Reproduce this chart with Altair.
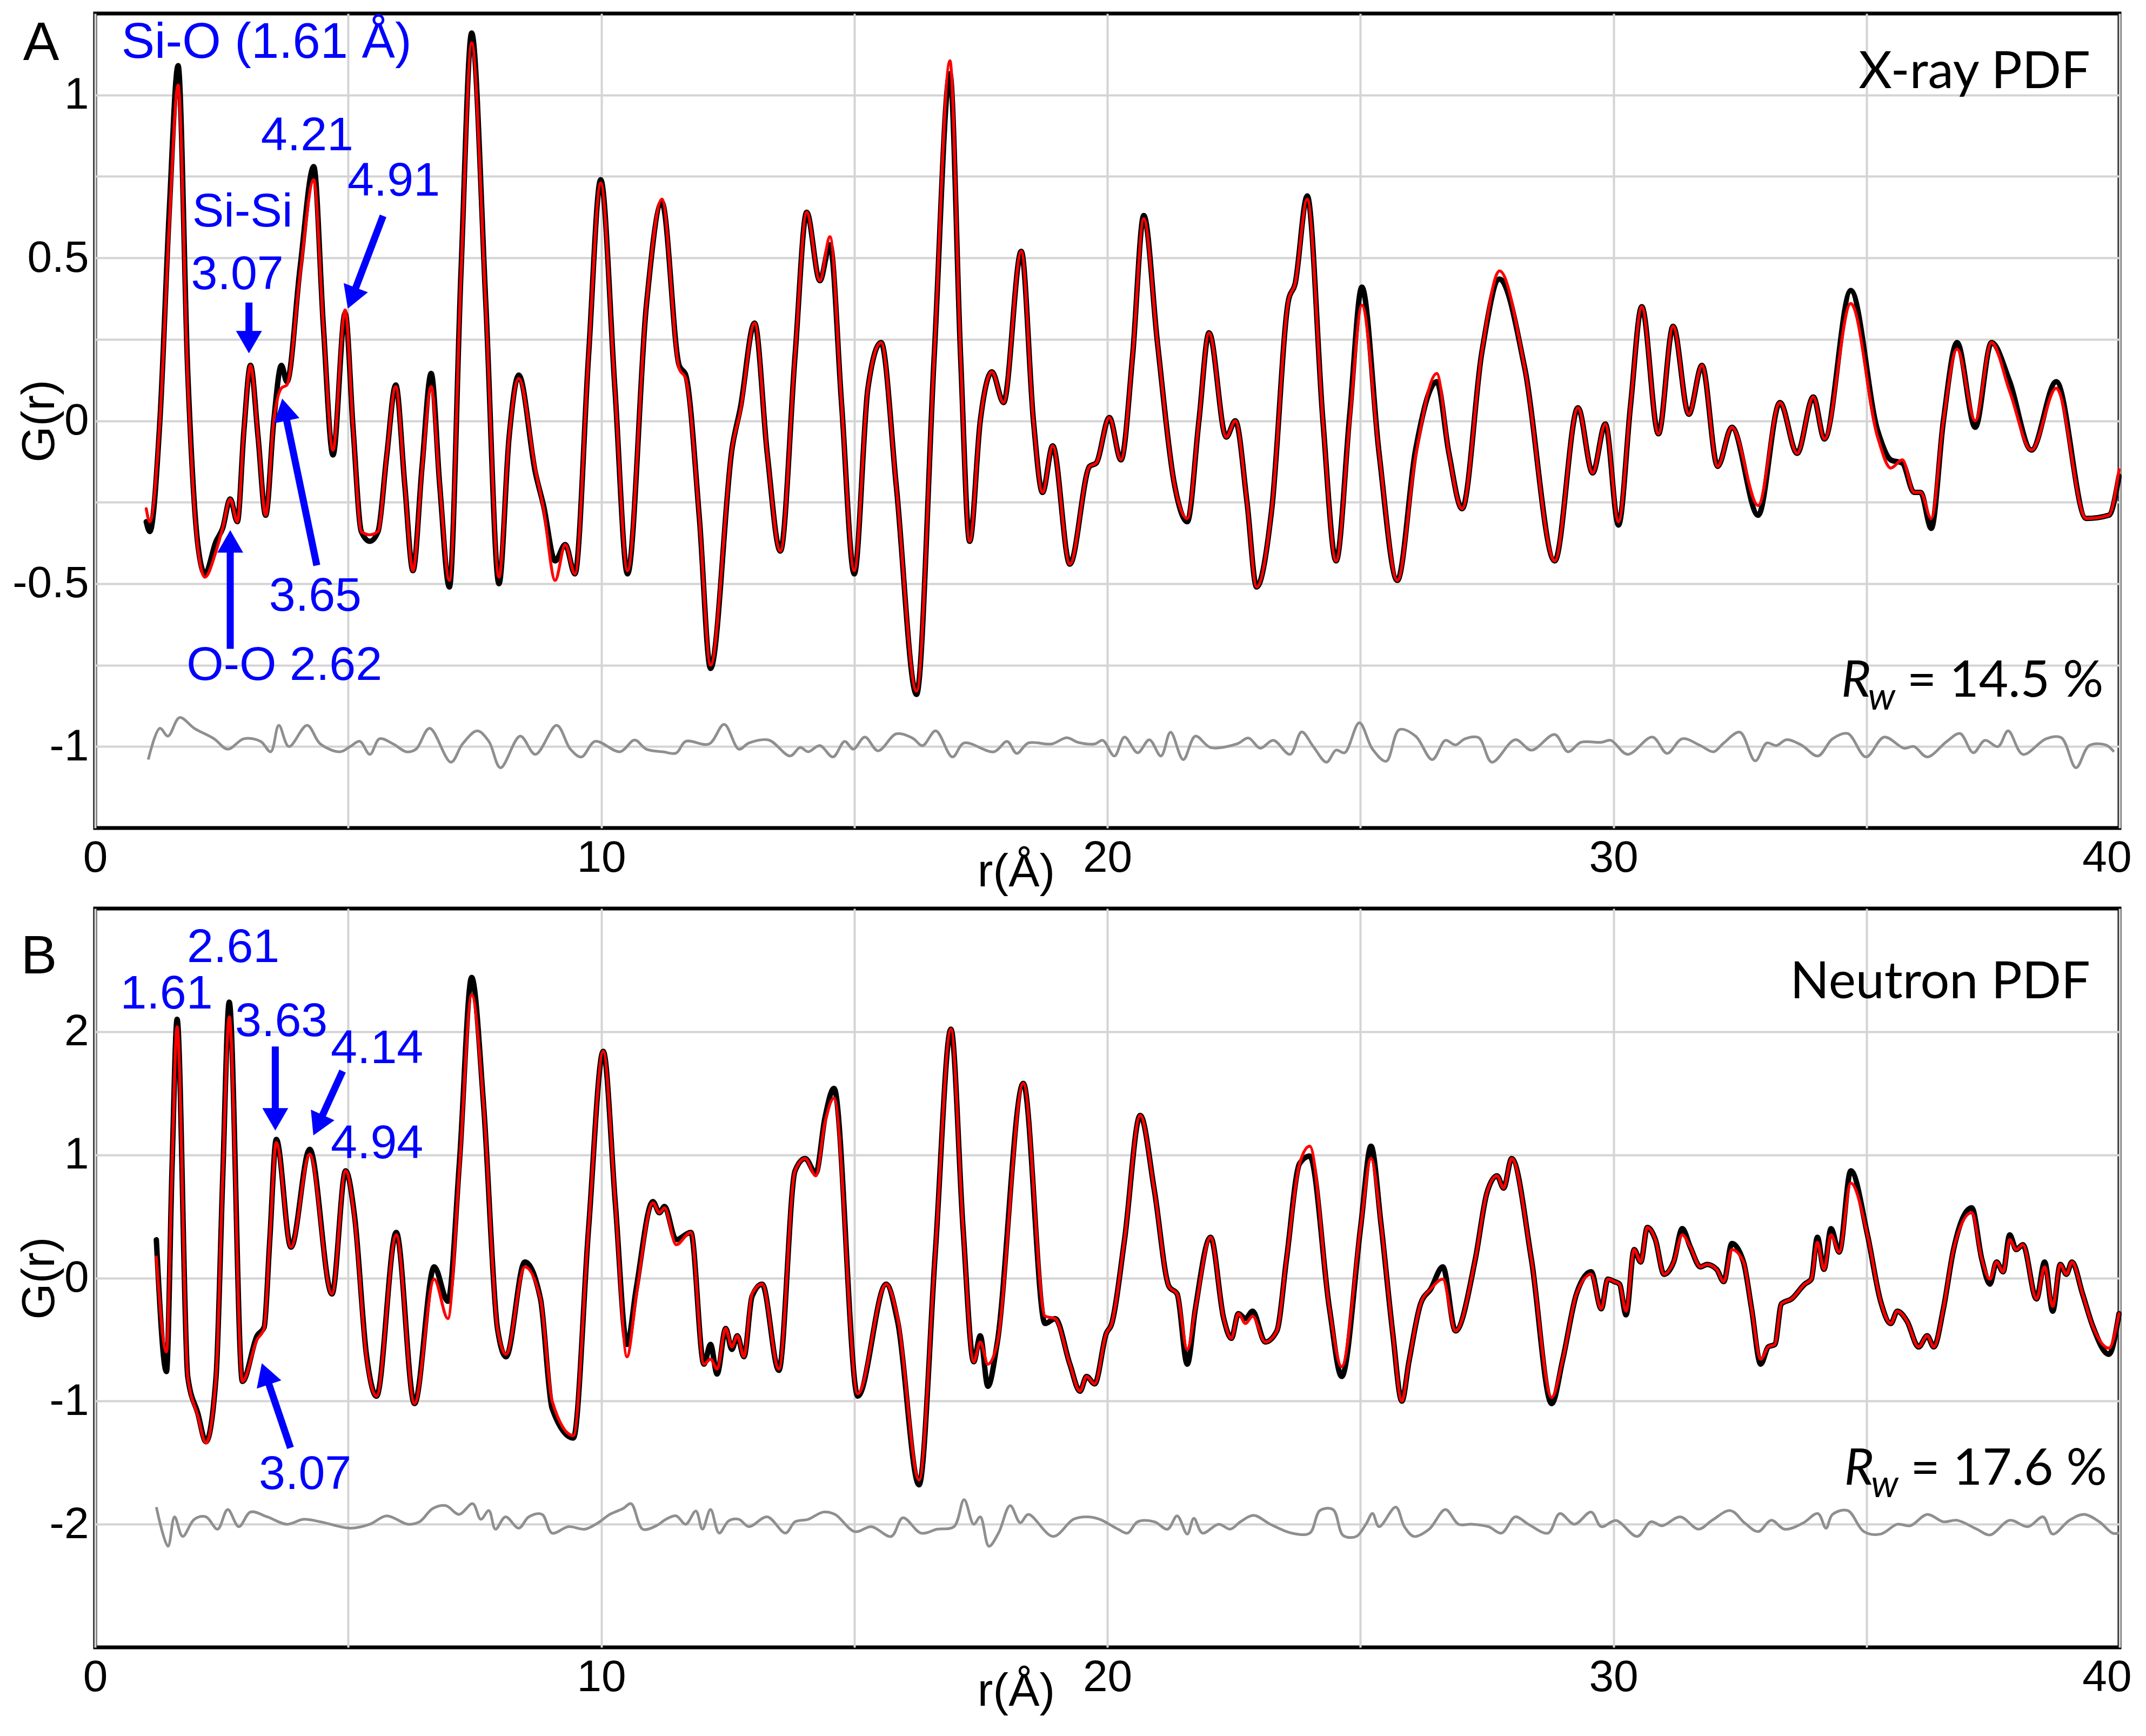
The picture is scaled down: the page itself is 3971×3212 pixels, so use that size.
import math
import altair as alt
import pandas as pd

# ---------------- data ----------------
# X-ray PDF: (r, G_calc [red], G_obs [black])
XRAY_A = [(1.01,-0.27,-0.31),(1.08,-0.31,-0.34),(1.28,0.00,0.00),(1.47,0.62,0.66),(1.64,1.03,1.09),
          (1.83,0.13,0.15),(2.03,-0.39,-0.38),(2.17,-0.48,-0.47),(2.39,-0.40,-0.37),(2.52,-0.33,-0.33),
          (2.67,-0.24,-0.24),(2.81,-0.31,-0.31),(2.94,-0.03,-0.03),(3.07,0.17,0.17),(3.22,-0.05,-0.05),
          (3.37,-0.29,-0.29),(3.53,0.00,0.00),(3.68,0.10,0.17),(3.79,0.11,0.12),(4.05,0.45,0.47),
          (4.32,0.74,0.78),(4.51,0.29,0.29),(4.70,-0.09,-0.105),(4.94,0.34,0.33),(5.10,-0.03,-0.03),
          (5.26,-0.34,-0.34),(5.43,-0.35,-0.37),(5.59,-0.34,-0.34),(5.76,-0.11,-0.11),(5.94,0.105,0.11),
          (6.12,-0.20,-0.20),(6.28,-0.46,-0.46),(6.46,-0.15,-0.14),(6.64,0.105,0.145),(6.81,-0.20,-0.20),
          (7.00,-0.49,-0.51),(7.23,0.45,0.46),(7.44,1.16,1.19),(7.72,0.35,0.36),(7.98,-0.48,-0.50),
          (8.18,-0.05,-0.05),(8.37,0.13,0.14),(8.70,-0.15,-0.16),(8.86,-0.27,-0.26),(9.09,-0.49,-0.43),
          (9.29,-0.38,-0.38),(9.48,-0.47,-0.47),(9.75,0.20,0.20),(9.99,0.73,0.74)]
XRAY_B = [(10.27,0.10,0.10),(10.52,-0.46,-0.47),(10.89,0.35,0.35),(11.20,0.68,0.67),(11.54,0.16,0.17),
          (11.67,0.13,0.14),(11.94,-0.30,-0.30),(12.16,-0.75,-0.76),(12.59,-0.08,-0.08),(12.75,0.03,0.04),
          (13.03,0.30,0.30),(13.28,-0.10,-0.10),(13.54,-0.40,-0.40),(13.83,0.20,0.20),(14.06,0.64,0.64),
          (14.32,0.43,0.43),(14.52,0.565,0.54),(14.75,0.05,0.05),(15.00,-0.46,-0.47),(15.27,0.10,0.10),
          (15.53,0.24,0.24),(15.83,-0.20,-0.20),(16.23,-0.83,-0.84),(16.58,0.20,0.20),(16.89,1.105,1.065),
          (17.10,0.20,0.20),(17.28,-0.37,-0.37),(17.49,0.00,0.00),(17.72,0.15,0.15),(17.95,0.056,0.056),
          (18.30,0.52,0.52),(18.54,0.00,0.00),(18.72,-0.22,-0.22),(18.92,-0.077,-0.077),(19.26,-0.44,-0.44),
          (19.65,-0.14,-0.14),(19.78,-0.13,-0.13)]
XRAY_C = [(20.04,0.01,0.01),(20.27,-0.12,-0.12),(20.50,0.20,0.20),(20.72,0.62,0.63),(20.99,0.24,0.24),
          (21.32,-0.19,-0.19),(21.58,-0.30,-0.31),(21.81,0.00,0.00),(22.01,0.27,0.27),(22.35,-0.05,-0.05),
          (22.53,0.00,0.00),(22.76,-0.25,-0.25),(22.95,-0.51,-0.51),(23.25,-0.27,-0.27),(23.58,0.37,0.37),
          (23.71,0.42,0.42),(23.95,0.68,0.69),(24.26,0.00,0.00),(24.52,-0.43,-0.43),(24.79,0.00,0.02),
          (25.03,0.355,0.41),(25.37,-0.10,-0.10),(25.73,-0.49,-0.49),(26.09,-0.11,-0.09),(26.51,0.145,0.12),
          (26.75,-0.10,-0.10),(27.01,-0.27,-0.27),(27.40,0.21,0.21),(27.75,0.46,0.435),(28.25,0.16,0.16),
          (28.84,-0.43,-0.43),(29.30,0.04,0.04),(29.59,-0.16,-0.16),(29.84,-0.01,-0.01)]
XRAY_D = [(30.10,-0.31,-0.32),(30.34,0.05,0.05),(30.56,0.35,0.35),(30.89,-0.04,-0.04),(31.18,0.29,0.29),
          (31.49,0.02,0.02),(31.75,0.17,0.17),(32.06,-0.14,-0.14),(32.34,-0.02,-0.02),(32.86,-0.26,-0.29),
          (33.29,0.056,0.056),(33.63,-0.10,-0.10),(33.95,0.073,0.073),(34.17,-0.056,-0.056),(34.69,0.36,0.40),
          (35.22,-0.05,-0.03),(35.48,-0.145,-0.12),(35.71,-0.12,-0.13),(35.94,-0.22,-0.22),(36.07,-0.22,-0.22),
          (36.28,-0.30,-0.33),(36.52,0.00,0.00),(36.79,0.22,0.24),(37.15,0.00,-0.02),(37.47,0.24,0.24),
          (37.83,0.09,0.12),(38.26,-0.09,-0.09),(38.75,0.10,0.12),(39.34,-0.30,-0.30),(39.79,-0.29,-0.29),
          (39.99,-0.15,-0.17)]

# X-ray difference curve (r, G) around -1
XDIFF_A = [(1.05,-1.04),(1.28,-0.944),(1.44,-0.968),(1.67,-0.911),(1.96,-0.944),(2.35,-0.976),(2.62,-1.008),
           (2.94,-0.976),(3.27,-0.984),(3.47,-1.016),(3.63,-0.935),(3.83,-1.0),(4.19,-0.935),(4.45,-0.992),
           (4.84,-1.016),(5.04,-1.0),(5.23,-0.984),(5.43,-1.024),(5.62,-0.976),(5.89,-0.992),(6.15,-1.016),
           (6.34,-1.008),(6.61,-0.944),(7.03,-1.048),(7.26,-0.992),(7.55,-0.952),(7.78,-0.984),(8.01,-1.065),
           (8.40,-0.968),(8.70,-1.024),(9.12,-0.935),(9.39,-1.008),(9.61,-1.032),(9.88,-0.984)]
XDIFF_B = [(10.37,-1.016),(10.66,-0.98),(10.89,-1.008),(11.22,-1.016),(11.48,-1.02),(11.67,-0.984),
           (12.13,-0.992),(12.43,-0.932),(12.72,-1.008),(12.92,-0.989),(13.31,-0.98),(13.73,-1.029),
           (13.93,-1.003),(14.09,-1.016),(14.32,-0.997),(14.58,-1.032),(14.81,-0.984),(14.98,-1.008),
           (15.21,-0.971),(15.47,-1.013),(15.83,-0.961),(16.15,-0.974),(16.35,-0.997),(16.61,-0.952),
           (16.94,-1.032),(17.17,-0.989),(17.76,-1.016),(18.02,-0.984),(18.21,-1.021),(18.44,-0.989),
           (18.90,-0.992),(19.20,-0.973),(19.42,-0.987),(19.75,-0.992),(19.91,-0.981)]
XDIFF_C = [(20.14,-1.029),(20.34,-0.971),(20.60,-1.019),(20.83,-0.979),(21.06,-1.029),(21.25,-0.956),
           (21.50,-1.04),(21.74,-0.968),(22.04,-1.003),(22.56,-0.992),(22.79,-0.974),(23.02,-1.005),
           (23.28,-0.981),(23.61,-1.024),(23.84,-0.955),(24.07,-1.0),(24.33,-1.048),(24.52,-1.011),
           (24.69,-1.019),(24.98,-0.927),(25.24,-1.008),(25.51,-1.045),(25.77,-0.948),(26.09,-0.968),
           (26.42,-1.04),(26.68,-0.981),(26.88,-0.995),(27.07,-0.976),(27.34,-0.973),(27.60,-1.048),
           (28.06,-0.979),(28.38,-1.011),(28.84,-0.963),(29.10,-1.016),(29.36,-0.987),(29.76,-0.987),
           (29.95,-0.981)]
XDIFF_D = [(30.28,-1.024),(30.77,-0.971),(31.06,-1.021),(31.36,-0.976),(31.72,-0.997),(31.98,-1.016),
           (32.18,-0.989),(32.50,-0.956),(32.80,-1.044),(33.03,-0.989),(33.22,-0.997),(33.42,-0.979),
           (33.71,-0.995),(34.04,-1.029),(34.33,-0.976),(34.63,-0.96),(34.99,-1.032),(35.35,-0.971),
           (35.74,-1.005),(35.94,-1.0),(36.20,-1.032),(36.59,-0.984),(36.85,-0.96),(37.11,-1.019),
           (37.34,-0.981),(37.60,-1.0),(37.80,-0.952),(38.09,-1.024),(38.55,-0.976),(38.85,-0.973),
           (39.14,-1.065),(39.40,-0.997),(39.73,-0.995),(39.89,-1.016)]

# Neutron PDF: (r, G_calc [red], G_obs [black])
NEUT_A = [(1.21,0.17,0.31),(1.41,-0.60,-0.76),(1.52,0.90,0.90),(1.62,2.04,2.10),(1.83,-0.80,-0.80),
          (2.03,-1.12,-1.10),(2.19,-1.34,-1.33),(2.39,-0.80,-0.80),(2.52,0.80,0.80),(2.65,2.12,2.24),
          (2.91,-0.84,-0.84),(3.20,-0.50,-0.47),(3.34,-0.41,-0.40),(3.45,0.30,0.30),(3.58,1.10,1.125),
          (3.87,0.25,0.25),(4.24,1.005,1.045),(4.68,-0.13,-0.13),(4.95,0.87,0.87),(5.13,0.47,0.49),
          (5.36,-0.64,-0.62),(5.56,-0.96,-0.96),(5.95,0.35,0.37),(6.31,-1.02,-1.02),(6.70,-0.01,0.09),
          (6.97,-0.33,-0.19),(7.20,0.90,0.95),(7.44,2.30,2.44),(7.68,1.38,1.38),(7.95,-0.41,-0.41),
          (8.12,-0.62,-0.64),(8.49,0.09,0.13),(8.80,-0.17,-0.17),(9.03,-1.00,-1.06),(9.45,-1.28,-1.30),
          (9.75,0.40,0.40)]
NEUT_B = [(10.04,1.84,1.84),(10.28,0.60,0.60),(10.51,-0.64,-0.54),(10.69,-0.15,-0.09),(11.02,0.61,0.62),
          (11.15,0.53,0.53),(11.25,0.57,0.58),(11.48,0.27,0.31),(11.77,0.37,0.37),(12.03,-0.70,-0.70),
          (12.16,-0.66,-0.54),(12.29,-0.74,-0.78),(12.46,-0.41,-0.41),(12.58,-0.56,-0.58),(12.69,-0.47,-0.47),
          (12.82,-0.64,-0.64),(12.98,-0.13,-0.15),(13.18,-0.05,-0.05),(13.51,-0.74,-0.75),(13.83,0.87,0.87),
          (14.03,0.97,0.97),(14.24,0.83,0.85),(14.42,1.26,1.30),(14.60,1.46,1.54),(15.07,-0.94,-0.96),
          (15.63,-0.05,-0.05),(15.86,-0.33,-0.36),(16.28,-1.64,-1.68),(16.60,0.20,0.20),(16.91,2.02,2.02),
          (17.15,0.40,0.40),(17.36,-0.68,-0.68),(17.49,-0.52,-0.47),(17.64,-0.70,-0.88),(17.82,-0.54,-0.54),
          (18.34,1.58,1.58),(18.77,-0.31,-0.37),(18.97,-0.33,-0.33),(19.26,-0.70,-0.70),(19.46,-0.92,-0.92),
          (19.59,-0.80,-0.80),(19.75,-0.86,-0.86),(19.98,-0.45,-0.45)]
NEUT_C = [(20.08,-0.38,-0.38),(20.34,0.31,0.31),(20.65,1.32,1.32),(20.93,0.71,0.71),(21.22,-0.07,-0.07),
          (21.38,-0.13,-0.13),(21.58,-0.58,-0.70),(21.74,-0.25,-0.25),(22.04,0.33,0.33),(22.30,-0.33,-0.33),
          (22.45,-0.49,-0.49),(22.59,-0.29,-0.29),(22.73,-0.37,-0.33),(22.87,-0.31,-0.27),(23.12,-0.52,-0.52),
          (23.35,-0.43,-0.43),(23.54,0.15,0.15),(23.80,0.93,0.93),(24.00,1.07,0.99),(24.39,-0.25,-0.25),
          (24.63,-0.72,-0.80),(25.01,0.43,0.43),(25.21,0.97,1.07),(25.41,0.43,0.43),(25.64,-0.45,-0.45),
          (25.82,-1.00,-1.00),(25.96,-0.68,-0.68),(26.19,-0.21,-0.21),(26.39,-0.09,-0.09),(26.63,-0.01,0.09),
          (26.88,-0.43,-0.43),(27.27,0.15,0.15),(27.50,0.69,0.69),(27.70,0.83,0.83),(27.83,0.73,0.73),
          (27.99,0.97,0.97),(28.38,0.15,0.15),(28.78,-0.97,-1.02),(29.00,-0.66,-0.66),(29.27,-0.13,-0.13),
          (29.56,0.03,0.05),(29.76,-0.25,-0.25),(29.89,-0.01,-0.01)]
NEUT_D = [(30.02,-0.03,-0.03),(30.12,-0.05,-0.05),(30.25,-0.27,-0.30),(30.41,0.23,0.23),(30.54,0.13,0.13),
          (30.67,0.41,0.41),(30.83,0.31,0.31),(31.00,0.03,0.03),(31.19,0.13,0.13),(31.36,0.35,0.40),
          (31.52,0.25,0.25),(31.72,0.09,0.09),(31.85,0.11,0.11),(32.04,0.07,0.07),(32.18,-0.03,-0.03),
          (32.34,0.23,0.28),(32.57,0.13,0.13),(32.73,-0.25,-0.25),(32.91,-0.66,-0.70),(33.06,-0.56,-0.56),
          (33.19,-0.54,-0.54),(33.32,-0.21,-0.21),(33.52,-0.17,-0.17),(33.78,-0.05,-0.05),(33.91,-0.01,-0.01),
          (34.03,0.29,0.33),(34.16,0.07,0.07),(34.30,0.35,0.40),(34.46,0.21,0.21),(34.69,0.77,0.87),
          (35.02,0.35,0.35),(35.28,-0.19,-0.19),(35.48,-0.37,-0.37),(35.61,-0.27,-0.27),(35.80,-0.35,-0.35),
          (36.03,-0.56,-0.56),(36.20,-0.47,-0.47),(36.33,-0.56,-0.56),(36.52,-0.25,-0.25),(36.72,0.23,0.23),
          (37.08,0.53,0.57),(37.28,0.15,0.15),(37.44,-0.01,-0.05),(37.57,0.13,0.13),(37.70,0.05,0.05),
          (37.83,0.31,0.35),(37.96,0.23,0.23),(38.09,0.27,0.27),(38.36,-0.17,-0.17),(38.52,0.09,0.13),
          (38.68,-0.23,-0.27),(38.83,0.11,0.11),(38.95,0.03,0.03),(39.06,0.13,0.13),(39.27,-0.13,-0.13),
          (39.47,-0.39,-0.39),(39.79,-0.57,-0.62),(39.99,-0.29,-0.29)]

# Neutron difference curve (r, G) around -2
NDIFF_A = [(1.21,-1.861),(1.44,-2.179),(1.57,-1.94),(1.73,-2.099),(1.96,-1.96),(2.19,-1.94),(2.42,-2.04),
           (2.62,-1.881),(2.84,-2.02),(3.07,-1.901),(3.40,-1.94),(3.79,-2.0),(4.12,-1.96),(4.45,-1.98),
           (5.04,-2.032),(5.43,-2.0),(5.76,-1.932),(6.18,-2.0),(6.41,-1.98),(6.67,-1.873),(6.93,-1.849),
           (7.19,-1.92),(7.46,-1.833),(7.62,-1.96),(7.78,-1.889),(7.91,-2.04),(8.11,-1.94),(8.37,-2.032),
           (8.57,-1.94),(8.83,-1.92),(9.03,-2.072),(9.35,-2.02),(9.68,-2.04),(9.94,-1.988)]
NDIFF_B = [(10.17,-1.92),(10.43,-1.873),(10.59,-1.833),(10.82,-2.04),(11.09,-2.012),(11.28,-1.96),
           (11.48,-1.932),(11.67,-2.0),(11.87,-1.893),(12.0,-2.04),(12.16,-1.881),(12.33,-2.072),
           (12.52,-1.972),(12.72,-1.96),(12.92,-2.02),(13.28,-1.94),(13.64,-2.072),(13.83,-1.98),
           (14.09,-1.96),(14.39,-1.901),(14.62,-1.92),(15.01,-2.06),(15.34,-2.02),(15.73,-2.099),
           (15.96,-1.948),(16.32,-2.072),(16.64,-2.04),(16.97,-2.02),(17.17,-1.801),(17.36,-2.0),
           (17.49,-1.94),(17.66,-2.179),(17.85,-2.072),(18.08,-1.849),(18.28,-1.988),(18.44,-1.92),
           (18.93,-2.099),(19.33,-1.96),(19.59,-1.94),(19.85,-1.96)]
NDIFF_C = [(20.21,-2.04),(20.40,-2.072),(20.60,-1.98),(20.93,-1.98),(21.19,-2.04),(21.38,-1.932),
           (21.58,-2.08),(21.71,-1.952),(21.88,-2.072),(22.20,-2.0),(22.43,-2.04),(22.63,-1.98),
           (22.89,-1.928),(23.22,-2.0),(23.64,-2.072),(24.0,-2.072),(24.2,-1.889),(24.46,-1.881),
           (24.66,-2.091),(24.92,-2.099),(25.11,-2.0),(25.24,-1.913),(25.37,-2.02),(25.70,-1.861),
           (25.87,-2.02),(26.06,-2.099),(26.36,-2.04),(26.68,-1.881),(26.94,-2.0),(27.21,-2.0),
           (27.53,-2.02),(27.79,-2.072),(28.06,-1.94),(28.32,-2.0),(28.71,-2.072),(28.94,-1.913),
           (29.23,-2.0),(29.56,-1.901),(29.76,-2.02)]
NDIFF_D = [(30.05,-1.97),(30.47,-2.099),(30.74,-1.98),(30.965,-2.012),(31.32,-1.94),(31.68,-2.04),
           (31.95,-1.968),(32.31,-1.889),(32.6,-1.992),(32.86,-2.06),(33.12,-1.968),(33.38,-2.04),
           (33.74,-1.992),(34.04,-1.913),(34.20,-2.032),(34.33,-1.92),(34.63,-1.889),(34.95,-2.06),
           (35.28,-2.08),(35.61,-2.0),(35.87,-2.012),(36.20,-1.92),(36.52,-1.98),(36.79,-1.968),
           (37.18,-2.04),(37.44,-2.087),(37.83,-1.968),(38.19,-2.02),(38.49,-1.94),(38.68,-2.08),
           (39.01,-1.968),(39.30,-1.92),(39.6,-1.98),(39.86,-2.072),(39.99,-2.072)]

# Annotations: (text, r, G, fontsize)
XRAY_NOTES = [("4.21", 4.19, 0.874, 88), ("Si-Si", 2.91, 0.64, 88), ("3.07", 2.81, 0.447, 88),
              ("4.91", 5.90, 0.734, 88), ("3.65", 4.35, -0.54, 88), ("O-O 2.62", 3.74, -0.753, 88)]
XRAY_NOTES_LEFT = [("Si-O (1.61 Å)", 0.52, 1.16, 92)]
NEUT_NOTES = [("1.61", 1.41, 2.30, 88), ("2.61", 2.73, 2.68, 88), ("3.63", 3.68, 2.08, 88),
              ("4.14", 5.57, 1.86, 88), ("4.94", 5.57, 1.085, 88), ("3.07", 4.15, -1.60, 88)]
# Arrows: (tail r, tail G, tip r, tip G)
XRAY_ARROWS = [(3.04, 0.363, 3.04, 0.21), (5.69, 0.629, 5.00, 0.347),
               (4.38, -0.444, 3.70, 0.065), (2.67, -0.70, 2.67, -0.339)]
NEUT_ARROWS = [(3.56, 1.88, 3.56, 1.205), (4.89, 1.68, 4.32, 1.165), (3.86, -1.38, 3.30, -0.70)]

# ---------------- chart ----------------
W, HT, HB = 3746, 1507, 1367
FONT = "Liberation Sans, Arial, sans-serif"
FONT2 = "Lato, Open Sans, sans-serif"
BLUE = "#0000ff"
GRID = "#d4d4d4"


def arrow_frames(arrows, H, ydom):
    sx = W / 40.0
    sy = H / (ydom[1] - ydom[0])
    hh = 19.0  # half-height of arrow head in px
    shafts, heads = [], []
    for r0, g0, r1, g1 in arrows:
        dx = (r1 - r0) * sx
        dy = -(g1 - g0) * sy
        L = math.hypot(dx, dy)
        ux, uy = dx / L, dy / L
        cr = r1 - ux * hh / sx
        cg = g1 + uy * hh / sy
        ang = math.degrees(math.atan2(ux, -uy)) % 360
        shafts.append({"r": r0, "G": g0, "r2": cr, "G2": cg})
        heads.append({"r": cr, "G": cg, "ang": ang})
    return pd.DataFrame(shafts), pd.DataFrame(heads)


def panel(fit_parts, diff_parts, ydom, yvals, ylabel_expr, H, notes, notes_left, arrows,
          tag, name, name_g, rw, rw_pos):
    xs = alt.Scale(domain=[0, 40], nice=False, zero=False)
    ys = alt.Scale(domain=ydom, nice=False, zero=False)
    fit = pd.DataFrame([p for part in fit_parts for p in part], columns=["r", "calc", "obs"])
    diff = pd.DataFrame([p for part in diff_parts for p in part], columns=["r", "G"])

    xaxis = alt.Axis(values=list(range(0, 41, 5)),
                     labelExpr="datum.value % 10 == 0 ? '' + datum.value : ''",
                     grid=True, gridColor=GRID, gridWidth=4, ticks=False, domain=False,
                     labelFont=FONT, labelFontSize=82, labelColor="black", labelPadding=15,
                     labelFlush=False, labelOverlap=False,
                     labelAlign={"condition": {"test": "datum.value == 40", "value": "right"},
                                 "value": "center"},
                     labelOffset={"condition": {"test": "datum.value == 40", "value": 22},
                                  "value": 0},
                     title="r(Å)", titleFont=FONT, titleFontSize=86, titleFontWeight="normal",
                     titleColor="black", titleX=1704, titleY=81, titleBaseline="middle",
                     titleAlign="center")
    yaxis = alt.Axis(values=yvals, labelExpr=ylabel_expr,
                     grid=True, gridColor=GRID, gridWidth=4, ticks=False, domain=False,
                     labelFont=FONT, labelFontSize=82, labelColor="black", labelPadding=12,
                     labelFlush=False, labelOverlap=False,
                     title="G(r)", titleFont=FONT, titleFontSize=86, titleFontWeight="normal",
                     titleColor="black", titleX=-103, titleY=H / 2, titleBaseline="middle",
                     titleAlign="center")

    def X():
        return alt.X("r:Q", scale=xs, axis=xaxis)

    def Y(field):
        return alt.Y(field + ":Q", scale=ys, axis=yaxis)

    diff_line = alt.Chart(diff).mark_line(
        color="#8f8f8f", strokeWidth=5, interpolate="catmull-rom", strokeJoin="round"
    ).encode(x=X(), y=Y("G"))
    obs_line = alt.Chart(fit).mark_line(
        color="black", strokeWidth=10, interpolate="monotone", strokeJoin="round", strokeCap="round"
    ).encode(x=X(), y=Y("obs"))
    calc_line = alt.Chart(fit).mark_line(
        color="#ff0000", strokeWidth=5.5, interpolate="monotone", strokeJoin="round", strokeCap="round"
    ).encode(x=X(), y=Y("calc"))

    ndf = pd.DataFrame(notes, columns=["t", "r", "G", "fs"])
    note_c = alt.Chart(ndf).mark_text(color=BLUE, font=FONT, align="center", baseline="middle").encode(
        x=X(), y=Y("G"), text="t:N", size=alt.Size("fs:Q", scale=None))
    layers = [diff_line, obs_line, calc_line, note_c]
    if notes_left:
        ldf = pd.DataFrame(notes_left, columns=["t", "r", "G", "fs"])
        layers.append(alt.Chart(ldf).mark_text(color=BLUE, font=FONT, align="left", baseline="middle").encode(
            x=X(), y=Y("G"), text="t:N", size=alt.Size("fs:Q", scale=None)))

    shafts, heads = arrow_frames(arrows, H, ydom)
    layers.append(alt.Chart(shafts).mark_rule(color=BLUE, strokeWidth=13, strokeCap="butt").encode(
        x=X(), y=Y("G"), x2="r2:Q", y2="G2:Q"))
    layers.append(alt.Chart(heads).mark_point(shape="triangle-up", filled=True, color=BLUE, opacity=1,
                                              size=2300, strokeWidth=0).encode(
        x=X(), y=Y("G"), angle=alt.Angle("ang:Q", scale=None)))

    # panel title (right) and R_w
    name_df = pd.DataFrame([{"t": name, "r": 39.42, "G": name_g}])
    layers.append(alt.Chart(name_df).mark_text(font=FONT2, fontSize=95, color="black", align="right",
                                               baseline="middle").encode(
        x=X(), y=Y("G"), text="t:N"))
    r_r, w_r, eq_r, base_g, w_g = rw_pos
    layers.append(alt.Chart(pd.DataFrame([{"t": "R", "r": r_r, "G": base_g}])).mark_text(
        font=FONT2, fontSize=94, fontStyle="italic", color="black", align="left", baseline="alphabetic"
    ).encode(x=X(), y=Y("G"), text="t:N"))
    layers.append(alt.Chart(pd.DataFrame([{"t": "w", "r": w_r, "G": w_g}])).mark_text(
        font=FONT2, fontSize=70, fontStyle="italic", color="black", align="left", baseline="alphabetic"
    ).encode(x=X(), y=Y("G"), text="t:N"))
    layers.append(alt.Chart(pd.DataFrame([{"t": rw, "r": eq_r, "G": base_g}])).mark_text(
        font=FONT2, fontSize=94, color="black", align="left", baseline="alphabetic"
    ).encode(x=X(), y=Y("G"), text="t:N"))

    # panel letter
    layers.append(alt.Chart(pd.DataFrame([{"t": tag[0]}])).mark_text(
        font=FONT, fontSize=100, color="black", align="center", baseline="middle"
    ).encode(x=alt.value(tag[1]), y=alt.value(tag[2]), text="t:N"))

    return alt.layer(*layers).properties(width=W, height=H)


top_y = [-1.0, -0.75, -0.5, -0.25, 0.0, 0.25, 0.5, 0.75, 1.0]
top = panel([XRAY_A, XRAY_B, XRAY_C, XRAY_D], [XDIFF_A, XDIFF_B, XDIFF_C, XDIFF_D],
            [-1.25, 1.25], top_y,
            "abs(datum.value % 0.5) < 1e-6 ? '' + datum.value : ''", HT,
            XRAY_NOTES, XRAY_NOTES_LEFT, XRAY_ARROWS, ("A", -100, 56),
            "X-ray PDF", 1.07, "= 14.5 %", (34.50, 35.03, 35.80, -0.847, -0.887))
bottom = panel([NEUT_A, NEUT_B, NEUT_C, NEUT_D], [NDIFF_A, NDIFF_B, NDIFF_C, NDIFF_D],
               [-3, 3], [-2, -1, 0, 1, 2], "'' + datum.value", HB,
               NEUT_NOTES, [], NEUT_ARROWS, ("B", -104, 90),
               "Neutron PDF", 2.40, "= 17.6 %", (34.56, 35.09, 35.87, -1.68, -1.78))

chart = alt.vconcat(top, bottom, spacing=149, bounds="flush").properties(
    padding={"left": 11, "top": 13, "right": 0, "bottom": 10}
).configure(background="white").configure_view(stroke="black", strokeWidth=7)

chart.save("out.html", embed_options={"renderer": "svg", "actions": False})
